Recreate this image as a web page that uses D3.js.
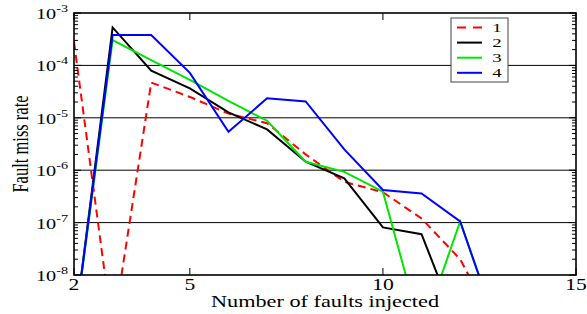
<!DOCTYPE html>
<html>
<head>
<meta charset="utf-8">
<script src="https://cdn.jsdelivr.net/npm/d3@7"></script>
<style>
  body { margin: 0; background: #fff; }
  svg text { font-family: "Liberation Serif", "Times New Roman", serif; fill: #000; }
</style>
</head>
<body>
<svg id="chart" width="587" height="314"></svg>
<script>
// values (points below 1e-8 run off the bottom of the plot)
const faults = [2, 3, 4, 5, 6, 7, 8, 9, 10, 11, 12, 13];
const series1 = [2.8e-4, 8e-10, 4.7e-5, 2.5e-5, 1.2e-5, 7.9e-6, 2.0e-6, 6.0e-7, 3.8e-7, 1.2e-7, 2.0e-8, 8e-10];
const series2 = [8e-10, 5.3e-4, 7.9e-5, 3.65e-5, 1.27e-5, 6.0e-6, 1.45e-6, 7.0e-7, 8.1e-8, 6.0e-8, 8e-10, 8e-10];
const series3 = [8e-10, 3.05e-4, 1.26e-4, 5.3e-5, 2.1e-5, 8.8e-6, 1.45e-6, 9.3e-7, 3.9e-7, 8e-10, 1.05e-7, 8e-10];
const series4 = [8e-10, 3.8e-4, 3.8e-4, 7.2e-5, 5.4e-6, 2.35e-5, 2.05e-5, 2.5e-6, 4.2e-7, 3.6e-7, 1.05e-7, 8e-10];
const seriesNames = ["1", "2", "3", "4"];
const xTicks = [2, 5, 10, 15];
const yExponents = [-8, -7, -6, -5, -4, -3];

const colors = ["#ff0000", "#000000", "#00e600", "#0000ff"];
const dashes = ["8,5", null, null, null];
const allSeries = [series1, series2, series3, series4];

const mLeft = 74, mRight = 576, mTop = 13, mBottom = 275;
const stretch = 1.35; // the original picture is wider than it is tall

const svg = d3.select("#chart");

const x = d3.scaleLinear().domain([2, 15]).range([mLeft, mRight]);
const y = d3.scaleLog().domain([1e-8, 1e-3]).range([mBottom, mTop]);

svg.append("defs").append("clipPath").attr("id", "plot")
  .append("rect").attr("x", mLeft).attr("y", mTop)
  .attr("width", mRight - mLeft).attr("height", mBottom - mTop);

// grid lines at the decades
svg.append("g").selectAll("line")
  .data(yExponents.slice(1, -1))
  .enter().append("line")
  .attr("x1", mLeft).attr("x2", mRight)
  .attr("y1", d => y(Math.pow(10, d))).attr("y2", d => y(Math.pow(10, d)))
  .attr("stroke", "#000").attr("stroke-width", 1);

// data lines
const line = d3.line()
  .x((d, i) => x(faults[i]))
  .y(d => y(d));

svg.append("g").attr("clip-path", "url(#plot)")
  .selectAll("path")
  .data(allSeries)
  .enter().append("path")
  .attr("d", d => line(d))
  .attr("fill", "none")
  .attr("stroke", (d, i) => colors[i])
  .attr("stroke-width", 2)
  .attr("stroke-dasharray", (d, i) => dashes[i]);

// ticks
const ticks = svg.append("g").attr("stroke", "#000").attr("stroke-width", 1);
const minor = [];
yExponents.slice(0, -1).forEach(e => {
  for (let k = 2; k <= 9; k++) minor.push(k * Math.pow(10, e));
});
minor.forEach(v => {
  ticks.append("line").attr("x1", mLeft).attr("x2", mLeft + 4).attr("y1", y(v)).attr("y2", y(v));
  ticks.append("line").attr("x1", mRight).attr("x2", mRight - 4).attr("y1", y(v)).attr("y2", y(v));
});
yExponents.forEach(e => {
  const v = Math.pow(10, e);
  ticks.append("line").attr("x1", mLeft).attr("x2", mLeft + 7).attr("y1", y(v)).attr("y2", y(v));
  ticks.append("line").attr("x1", mRight).attr("x2", mRight - 7).attr("y1", y(v)).attr("y2", y(v));
});
xTicks.forEach(t => {
  ticks.append("line").attr("x1", x(t)).attr("x2", x(t)).attr("y1", mBottom).attr("y2", mBottom - 7);
  ticks.append("line").attr("x1", x(t)).attr("x2", x(t)).attr("y1", mTop).attr("y2", mTop + 7);
});

// frame
svg.append("rect")
  .attr("x", mLeft).attr("y", mTop)
  .attr("width", mRight - mLeft).attr("height", mBottom - mTop)
  .attr("fill", "none").attr("stroke", "#000").attr("stroke-width", 1.6);

// y tick labels
yExponents.forEach(e => {
  const g = svg.append("g")
    .attr("transform", `translate(${mLeft - 6},${y(Math.pow(10, e)) + 6}) scale(${stretch},1)`);
  const t = g.append("text").attr("text-anchor", "end").attr("font-size", 15);
  t.append("tspan").text("10");
  t.append("tspan").attr("font-size", 10.5).attr("dy", -7).text(e);
});

// x tick labels
xTicks.forEach(t => {
  svg.append("g")
    .attr("transform", `translate(${x(t)},290) scale(${stretch},1)`)
    .append("text").attr("text-anchor", "middle").attr("font-size", 16).text(t);
});

// axis titles
svg.append("g")
  .attr("transform", `translate(${(mLeft + mRight) / 2},307) scale(${stretch},1)`)
  .append("text").attr("text-anchor", "middle").attr("font-size", 16.5)
  .text("Number of faults injected");

svg.append("g")
  .attr("transform", `translate(28,${(mTop + mBottom) / 2}) scale(${stretch},1) rotate(-90)`)
  .append("text").attr("text-anchor", "middle").attr("font-size", 16.5)
  .text("Fault miss rate");

// legend
const legend = svg.append("g").attr("transform", "translate(451,18)");
legend.append("rect")
  .attr("width", 57).attr("height", 64)
  .attr("fill", "#fff").attr("stroke", "#444").attr("stroke-width", 1);
seriesNames.forEach((name, i) => {
  const ly = 9.5 + i * 15.1;
  legend.append("line")
    .attr("x1", 6).attr("x2", 31).attr("y1", ly).attr("y2", ly)
    .attr("stroke", colors[i]).attr("stroke-width", 2)
    .attr("stroke-dasharray", i === 0 ? "9,7" : null);
  legend.append("g")
    .attr("transform", `translate(46,${ly + 4.5}) scale(1.45,1)`)
    .append("text").attr("text-anchor", "middle").attr("font-size", 13).text(name);
});
</script>
</body>
</html>
